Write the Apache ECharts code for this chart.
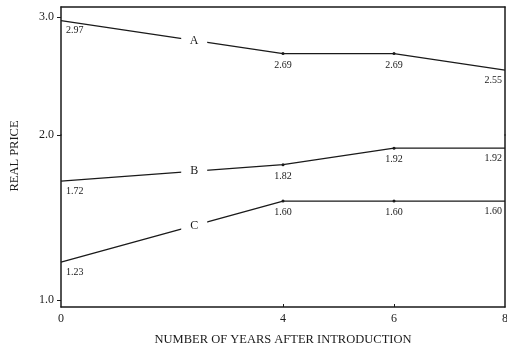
<!DOCTYPE html>
<html><head><meta charset="utf-8">
<script src="https://cdn.jsdelivr.net/npm/echarts@6/dist/echarts.min.js"></script>
<style>html,body{margin:0;padding:0;background:#fff}#c{width:507px;height:349px}</style>
</head><body><div id="c"></div>
<script>
const years = [0, 4, 6, 8];
const xTickLabels = [0, 4, 6, 8];
const seriesA = [2.97, 2.69, 2.69, 2.55];
const seriesB = [1.72, 1.82, 1.92, 1.92];
const seriesC = [1.23, 1.60, 1.60, 1.60];
const lineNames = ['A', 'B', 'C'];
const yTicksUpper = [3.0];
const yTicksLower = [1.0, 2.0];
const letterX = 2.4;

const FONT = 'Liberation Serif';
const INK = '#1a1a1a';

function buildData(vals) {
  return vals.map((v, i) => {
    const item = { value: [years[i], v] };
    const last = vals.length - 1;
    item.label = { show: true, position: 'bottom', distance: 5, formatter: v.toFixed(2) };
    if (i === 0) { item.label.align = 'left'; item.label.offset = [5, 0]; item.symbolSize = 0; }
    if (i === last) { item.label.align = 'right'; item.label.offset = [-3, 0]; item.symbolSize = 0; }
    return item;
  });
}
function letterPoint(vals, name) {
  const t = (letterX - years[0]) / (years[1] - years[0]);
  const y = vals[0] + (vals[1] - vals[0]) * t;
  return {
    symbol: 'rect',
    symbolSize: [26, 12],
    silent: true,
    itemStyle: { color: '#fff' },
    label: { show: true, position: 'inside', formatter: name, color: INK, fontFamily: FONT, fontSize: 12 },
    data: [{ coord: [letterX, y] }]
  };
}
function lineSeries(vals, name, gi) {
  return {
    type: 'line', name: name, xAxisIndex: gi, yAxisIndex: gi * 2,
    data: buildData(vals), symbol: 'circle', symbolSize: 3, showAllSymbol: true,
    lineStyle: { color: INK, width: 1.3 }, itemStyle: { color: INK },
    label: { color: INK, fontFamily: FONT, fontSize: 10 },
    markPoint: letterPoint(vals, name),
    animation: false
  };
}

const axisLineStyle = { show: true, lineStyle: { color: INK, width: 1.5 } };
const chart = echarts.init(document.getElementById('c'), null, { renderer: 'canvas' });
chart.setOption({
  backgroundColor: '#fff',
  animation: false,
  grid: [
    { left: 61, right: 2, top: 7, height: 128, outerBoundsMode: 'none', containLabel: false },
    { left: 61, right: 2, top: 135, bottom: 42, outerBoundsMode: 'none', containLabel: false }
  ],
  xAxis: [
    { gridIndex: 0, type: 'value', min: 0, max: 8, interval: 2, position: 'top',
      axisLine: axisLineStyle, axisTick: { show: false }, axisLabel: { show: false }, splitLine: { show: false } },
    { gridIndex: 1, type: 'value', min: 0, max: 8, interval: 2, position: 'bottom',
      axisLine: axisLineStyle,
      axisTick: { show: true, inside: true, length: 3, customValues: [4, 6], lineStyle: { color: INK } },
      axisLabel: { customValues: xTickLabels, color: INK, fontFamily: FONT, fontSize: 12, margin: 6 },
      splitLine: { show: false },
      name: 'NUMBER OF YEARS AFTER INTRODUCTION', nameLocation: 'middle', nameGap: 26,
      nameTextStyle: { color: INK, fontFamily: FONT, fontSize: 12.5 } }
  ],
  yAxis: [
    { gridIndex: 0, type: 'value', min: 2, max: 3.085, interval: 1, position: 'left',
      axisLine: axisLineStyle,
      axisTick: { show: true, length: 4, customValues: yTicksUpper, lineStyle: { color: INK } },
      axisLabel: { customValues: yTicksUpper, formatter: v => v.toFixed(1), color: INK, fontFamily: FONT, fontSize: 12, margin: 7 },
      splitLine: { show: false } },
    { gridIndex: 0, type: 'value', min: 2, max: 3.085, position: 'right',
      axisLine: axisLineStyle, axisTick: { show: false }, axisLabel: { show: false }, splitLine: { show: false } },
    { gridIndex: 1, type: 'value', min: 0.958, max: 2, interval: 1, position: 'left',
      axisLine: axisLineStyle,
      axisTick: { show: true, length: 4, customValues: yTicksLower, lineStyle: { color: INK } },
      axisLabel: { customValues: yTicksLower, formatter: v => v.toFixed(1), color: INK, fontFamily: FONT, fontSize: 12, margin: 7 },
      splitLine: { show: false } },
    { gridIndex: 1, type: 'value', min: 0.958, max: 2, position: 'right',
      axisLine: axisLineStyle, axisTick: { show: false }, axisLabel: { show: false }, splitLine: { show: false } }
  ],
  graphic: [
    { type: 'text', x: 15, y: 156, rotation: Math.PI / 2,
      style: { text: 'REAL PRICE', fill: INK, font: '12.5px "Liberation Serif"', align: 'center', verticalAlign: 'middle' } }
  ],
  series: [
    lineSeries(seriesA, lineNames[0], 0),
    lineSeries(seriesB, lineNames[1], 1),
    lineSeries(seriesC, lineNames[2], 1)
  ]
});
</script></body></html>
